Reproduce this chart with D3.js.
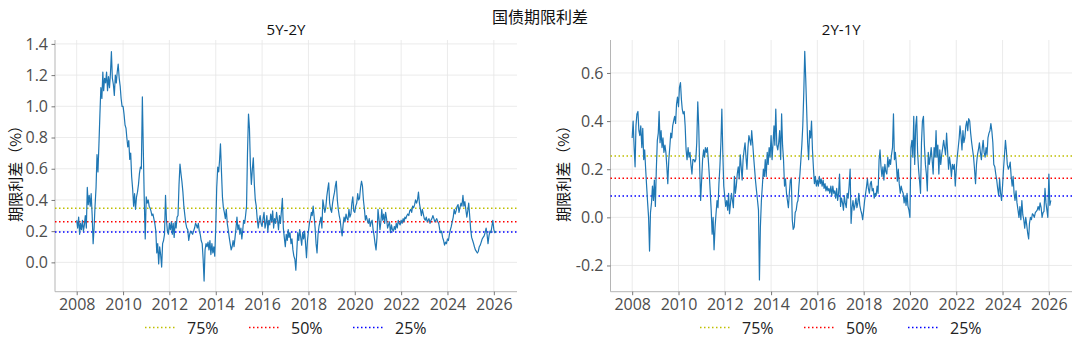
<!DOCTYPE html>
<html>
<head>
<meta charset="utf-8">
<script src="https://cdn.jsdelivr.net/npm/d3@7"></script>
<style>
  body { margin: 0; background: #fff; }
  svg { display: block; }
</style>
</head>
<body>
<svg id="chart" width="1080" height="350"></svg>
<script>
// Half-monthly observations (1st and 16th of each month), starting January 2008.
const startYear = 2008;

// 5Y-2Y treasury term spread, %
const spread5y2y = [
  // 2008
  0.27, 0.22, 0.29, 0.18, 0.25, 0.21, 0.27, 0.20, 0.24, 0.30, 0.22, 0.48, 0.37, 0.43, 0.36, 0.44, 0.30, 0.12, 0.22, 0.36, 0.48, 0.69, 0.58, 0.75,
  // 2009
  0.95, 1.12, 1.05, 1.22, 1.10, 1.18, 1.15, 1.22, 1.10, 1.19, 1.12, 1.21, 1.35, 1.18, 1.14, 1.07, 1.20, 1.15, 1.22, 1.27, 1.18, 1.13, 1.05, 1.00,
  // 2010
  1.00, 0.95, 0.88, 0.86, 0.80, 0.74, 0.78, 0.66, 0.70, 0.55, 0.47, 0.36, 0.44, 0.34, 0.42, 0.45, 0.50, 0.57, 0.61, 0.60, 1.06, 0.72, 0.40, 0.15,
  // 2011
  0.42, 0.38, 0.40, 0.36, 0.35, 0.33, 0.30, 0.31, 0.28, 0.25, 0.20, 0.06, 0.12, -0.01, 0.10, 0.05, -0.03, 0.12, 0.14, 0.18, 0.43, 0.27, 0.20, 0.18,
  // 2012
  0.25, 0.21, 0.26, 0.18, 0.25, 0.16, 0.26, 0.22, 0.29, 0.30, 0.50, 0.63, 0.57, 0.52, 0.45, 0.36, 0.30, 0.25, 0.22, 0.21, 0.14, 0.18, 0.20, 0.19,
  // 2013
  0.18, 0.20, 0.22, 0.25, 0.24, 0.22, 0.25, 0.20, 0.18, 0.14, 0.12, 0.02, -0.12, 0.08, 0.12, 0.10, 0.13, 0.08, 0.14, 0.05, 0.12, 0.06, 0.10, 0.04,
  // 2014
  0.23, 0.48, 0.61, 0.58, 0.65, 0.76, 0.58, 0.42, 0.35, 0.32, 0.28, 0.34, 0.25, 0.21, 0.16, 0.12, 0.08, 0.10, 0.14, 0.10, 0.16, 0.22, 0.29, 0.21,
  // 2015
  0.24, 0.18, 0.22, 0.15, 0.20, 0.27, 0.25, 0.30, 0.36, 0.70, 0.95, 0.86, 0.62, 0.50, 0.60, 0.67, 0.50, 0.40, 0.36, 0.28, 0.22, 0.27, 0.30, 0.25,
  // 2016
  0.23, 0.28, 0.32, 0.22, 0.25, 0.30, 0.20, 0.27, 0.24, 0.31, 0.26, 0.33, 0.22, 0.28, 0.25, 0.32, 0.27, 0.21, 0.30, 0.25, 0.33, 0.41, 0.22, 0.16,
  // 2017
  0.10, 0.18, 0.14, 0.21, 0.16, 0.19, 0.12, 0.15, 0.08, 0.04, 0.02, -0.05, 0.07, 0.19, 0.14, 0.21, 0.16, 0.11, 0.19, 0.15, 0.20, 0.12, 0.03, 0.14,
  // 2018
  0.20, 0.25, 0.28, 0.32, 0.30, 0.36, 0.29, 0.22, 0.12, 0.06, 0.18, 0.23, 0.26, 0.29, 0.22, 0.40, 0.36, 0.32, 0.35, 0.42, 0.47, 0.51, 0.38, 0.34,
  // 2019
  0.32, 0.38, 0.42, 0.45, 0.49, 0.52, 0.40, 0.34, 0.30, 0.27, 0.21, 0.17, 0.24, 0.29, 0.26, 0.31, 0.28, 0.27, 0.34, 0.29, 0.31, 0.38, 0.42, 0.33,
  // 2020
  0.32, 0.36, 0.38, 0.44, 0.40, 0.41, 0.48, 0.52, 0.49, 0.40, 0.34, 0.27, 0.30, 0.27, 0.25, 0.28, 0.23, 0.26, 0.27, 0.21, 0.17, 0.12, 0.08, 0.16,
  // 2021
  0.34, 0.28, 0.21, 0.26, 0.34, 0.27, 0.31, 0.25, 0.32, 0.28, 0.22, 0.24, 0.26, 0.19, 0.24, 0.21, 0.20, 0.23, 0.21, 0.25, 0.22, 0.27, 0.25, 0.24,
  // 2022
  0.27, 0.25, 0.28, 0.26, 0.29, 0.28, 0.30, 0.31, 0.30, 0.33, 0.34, 0.32, 0.36, 0.35, 0.37, 0.40, 0.38, 0.40, 0.45, 0.38, 0.34, 0.30, 0.34, 0.31,
  // 2023
  0.28, 0.27, 0.29, 0.26, 0.27, 0.28, 0.25, 0.27, 0.28, 0.30, 0.28, 0.26, 0.27, 0.28, 0.26, 0.25, 0.21, 0.19, 0.20, 0.16, 0.14, 0.11, 0.13, 0.12,
  // 2024
  0.15, 0.14, 0.18, 0.21, 0.23, 0.26, 0.29, 0.34, 0.31, 0.33, 0.36, 0.37, 0.32, 0.35, 0.38, 0.36, 0.43, 0.36, 0.39, 0.34, 0.29, 0.33, 0.38, 0.30,
  // 2025
  0.21, 0.16, 0.14, 0.12, 0.10, 0.08, 0.07, 0.06, 0.07, 0.10, 0.11, 0.13, 0.15, 0.16, 0.17, 0.19, 0.22, 0.18, 0.12, 0.17, 0.20, 0.19, 0.23, 0.27,
  // 2026
  0.21, 0.19, 0.20
];

// 2Y-1Y treasury term spread, %
const spread2y1y = [
  // 2008
  0.33, 0.40, 0.29, 0.21, 0.38, 0.43, 0.44, 0.36, 0.34, 0.38, 0.29, 0.37, 0.24, 0.28, 0.20, 0.13, 0.06, 0.00, -0.14, 0.02, 0.06, 0.13, 0.07, 0.155,
  // 2009
  0.045, 0.20, 0.32, 0.35, 0.44, 0.31, 0.36, 0.29, 0.33, 0.27, 0.30, 0.27, 0.21, 0.14, 0.24, 0.29, 0.35, 0.33, 0.38, 0.40, 0.42, 0.39, 0.47, 0.50,
  // 2010
  0.46, 0.54, 0.56, 0.49, 0.45, 0.43, 0.44, 0.38, 0.28, 0.24, 0.29, 0.25, 0.27, 0.22, 0.18, 0.24, 0.24, 0.23, 0.24, 0.31, 0.48, 0.38, 0.21, 0.07,
  // 2011
  0.155, 0.24, 0.28, 0.25, 0.29, 0.27, 0.29, 0.24, 0.18, 0.11, 0.03, -0.07, 0.00, -0.135, -0.04, 0.015, 0.07, 0.04, 0.14, 0.21, 0.31, 0.45, 0.27, 0.13,
  // 2012
  0.085, 0.045, 0.07, 0.03, 0.10, 0.015, 0.06, 0.10, 0.07, 0.04, 0.17, 0.10, 0.13, 0.18, 0.21, 0.16, 0.26, 0.21, 0.155, 0.24, 0.28, 0.31, 0.25, 0.20,
  // 2013
  0.29, 0.34, 0.32, 0.30, 0.36, 0.31, 0.25, 0.20, 0.15, 0.11, 0.07, 0.03, -0.26, -0.04, 0.07, 0.13, 0.20, 0.17, 0.24, 0.17, 0.27, 0.22, 0.29, 0.25,
  // 2014
  0.34, 0.24, 0.31, 0.38, 0.30, 0.45, 0.30, 0.28, 0.31, 0.36, 0.24, 0.43, 0.30, 0.24, 0.13, 0.16, 0.10, 0.07, 0.04, 0.10, 0.155, 0.16, -0.01, -0.05,
  // 2015
  -0.04, 0.02, 0.03, 0.06, 0.07, 0.13, 0.18, 0.24, 0.30, 0.38, 0.52, 0.69, 0.58, 0.45, 0.31, 0.24, 0.36, 0.33, 0.40, 0.28, 0.20, 0.14, 0.17, 0.13,
  // 2016
  0.155, 0.13, 0.17, 0.14, 0.16, 0.13, 0.155, 0.12, 0.14, 0.11, 0.13, 0.11, 0.12, 0.10, 0.13, 0.09, 0.13, 0.10, 0.11, 0.08, 0.12, 0.07, 0.10, 0.18,
  // 2017
  0.045, 0.08, 0.06, 0.03, 0.09, 0.06, 0.04, 0.10, 0.08, 0.13, 0.20, -0.025, 0.04, 0.07, 0.03, 0.05, 0.08, 0.04, 0.06, 0.10, 0.05, 0.03, 0.015, -0.01,
  // 2018
  0.03, 0.07, 0.10, 0.13, 0.16, 0.12, 0.10, 0.14, 0.15, 0.11, 0.12, 0.08, 0.10, 0.09, 0.13, 0.10, 0.24, 0.28, 0.21, 0.17, 0.21, 0.155, 0.22, 0.19,
  // 2019
  0.18, 0.25, 0.21, 0.24, 0.22, 0.26, 0.29, 0.43, 0.24, 0.27, 0.22, 0.15, 0.20, 0.14, 0.10, 0.13, 0.11, 0.10, 0.06, 0.09, 0.05, 0.10, 0.045, 0.03,
  // 2020
  0.00, 0.29, 0.32, 0.25, 0.42, 0.22, 0.38, 0.42, 0.27, 0.20, 0.15, 0.10, 0.31, 0.40, 0.42, 0.30, 0.22, 0.18, 0.11, 0.27, 0.22, 0.25, 0.29, 0.24,
  // 2021
  0.18, 0.29, 0.25, 0.36, 0.25, 0.30, 0.18, 0.28, 0.22, 0.26, 0.29, 0.32, 0.29, 0.26, 0.35, 0.28, 0.20, 0.25, 0.22, 0.17, 0.22, 0.20, 0.22, 0.13,
  // 2022
  0.20, 0.25, 0.29, 0.33, 0.38, 0.34, 0.28, 0.36, 0.31, 0.33, 0.38, 0.40, 0.36, 0.41, 0.40, 0.35, 0.31, 0.28, 0.25, 0.20, 0.14, 0.22, 0.26, 0.28,
  // 2023
  0.31, 0.27, 0.24, 0.29, 0.32, 0.27, 0.25, 0.29, 0.26, 0.33, 0.35, 0.36, 0.39, 0.36, 0.31, 0.22, 0.21, 0.18, 0.155, 0.12, 0.09, 0.16, 0.10, 0.07,
  // 2024
  0.13, 0.20, 0.26, 0.32, 0.28, 0.22, 0.20, 0.21, 0.23, 0.17, 0.13, 0.17, 0.10, 0.07, 0.11, 0.06, 0.03, 0.00, 0.045, -0.01, 0.07, 0.01, -0.01, -0.045,
  // 2025
  0.00, -0.03, -0.066, -0.09, -0.025, 0.00, -0.01, 0.015, 0.01, 0.00, 0.02, 0.025, 0.03, 0.045, 0.03, 0.06, 0.04, 0.00, 0.02, 0.025, 0.12, 0.06, 0.03, 0.00,
  // 2026
  0.18, 0.05, 0.07
];

// Historical quantiles of each spread
const quantileLabels = ["75%", "50%", "25%"];
const quantileColors = ["#bfbf00", "#ff0000", "#0000ff"];
const quantiles5y2y = [0.346, 0.260, 0.194];
const quantiles2y1y = [0.255, 0.162, 0.089];

// Axis ticks
const yearTicks = [2008, 2010, 2012, 2014, 2016, 2018, 2020, 2022, 2024, 2026];
const ticks5y2y = [0.0, 0.2, 0.4, 0.6, 0.8, 1.0, 1.2, 1.4];
const ticks2y1y = [-0.2, 0.0, 0.2, 0.4, 0.6];

const titleText = "国债期限利差";
const yLabelText = "期限利差（%）";

// --- drawing ---
const svg = d3.select("#chart");
svg.append("rect").attr("width", 1080).attr("height", 350).attr("fill", "#fff");

const latinFont = "'Open Sans', 'Noto Sans', sans-serif";
const cjkFont = "'Noto Sans CJK SC', 'Noto Sans', sans-serif";

function sampleDate(i) {
  const k = i % 24;
  return new Date(Date.UTC(startYear + Math.floor(i / 24), Math.floor(k / 2), k % 2 ? 16 : 1));
}

function yearDate(y) { return new Date(Date.UTC(y, 0, 1)); }

function decimalDate(t) {
  const y = Math.floor(t);
  const a = Date.UTC(y, 0, 1), b = Date.UTC(y + 1, 0, 1);
  return new Date(a + (t - y) * (b - a));
}

const fmt = v => d3.format(".1f")(v).replace("−", "-");

function drawPanel(cfg) {
  const { left, right, top, bottom } = cfg;
  const x = d3.scaleUtc()
    .domain([decimalDate(2007.063), decimalDate(2027.0)])
    .range([left, right]);
  const y = d3.scaleLinear().domain(cfg.yDomain).range([bottom, top]);

  const g = svg.append("g");

  // grid
  g.append("g").selectAll("line.gx").data(yearTicks).join("line")
    .attr("x1", d => x(yearDate(d))).attr("x2", d => x(yearDate(d)))
    .attr("y1", top).attr("y2", bottom)
    .attr("stroke", "#e6e6e6").attr("stroke-width", 0.8);
  g.append("g").selectAll("line.gy").data(cfg.yTicks).join("line")
    .attr("x1", left).attr("x2", right)
    .attr("y1", d => y(d)).attr("y2", d => y(d))
    .attr("stroke", "#e6e6e6").attr("stroke-width", 0.8);

  // axes
  const xAxis = d3.axisBottom(x).tickValues(yearTicks.map(yearDate))
    .tickFormat(d3.utcFormat("%Y")).tickSize(3.5).tickPadding(3.5);
  const yAxis = d3.axisLeft(y).tickValues(cfg.yTicks).tickFormat(fmt)
    .tickSize(3.5).tickPadding(3.5);

  const gx = g.append("g").attr("transform", `translate(0,${bottom})`).call(xAxis);
  const gy = g.append("g").attr("transform", `translate(${left},0)`).call(yAxis);
  for (const ax of [gx, gy]) {
    ax.select(".domain").attr("stroke", "#b5b5b5").attr("stroke-width", 1);
    ax.selectAll(".tick line").attr("stroke", "#555").attr("stroke-width", 0.8);
    ax.selectAll(".tick text").attr("fill", "#4d4d4d")
      .style("font-family", latinFont).style("font-size", "16px");
  }
  gx.select(".domain").attr("d", `M${left},0H${right}`);
  gy.select(".domain").attr("d", `M0,${top}V${bottom}`);

  // quantile lines
  g.append("g").selectAll("line.q").data(cfg.quantiles).join("line")
    .attr("x1", left).attr("x2", right)
    .attr("y1", d => y(d)).attr("y2", d => y(d))
    .attr("stroke", (d, i) => quantileColors[i])
    .attr("stroke-width", 1.5)
    .attr("stroke-dasharray", "1.5,2.5");

  // spread line
  const line = d3.line()
    .x((d, i) => x(sampleDate(i)))
    .y(d => y(d));
  g.append("path").datum(cfg.values)
    .attr("d", line)
    .attr("fill", "none")
    .attr("stroke", "#1f77b4")
    .attr("stroke-width", 1.2)
    .attr("stroke-linejoin", "round");

  // subplot title
  g.append("text").attr("x", (left + right) / 2).attr("y", 35)
    .attr("text-anchor", "middle")
    .style("font-family", latinFont).style("font-size", "15px").attr("fill", "#111")
    .text(cfg.title);

  // y label
  g.append("text")
    .attr("transform", `translate(${cfg.yLabelX},${(top + bottom) / 2 + 4}) rotate(-90)`)
    .attr("text-anchor", "middle").attr("dominant-baseline", "central")
    .style("font-family", cjkFont).style("font-size", "15px").attr("fill", "#111")
    .text(yLabelText);

  // legend
  const legendY = 327.5;
  const lg = g.append("g");
  quantileLabels.forEach((lab, i) => {
    const x0 = cfg.legendX + i * 104;
    lg.append("line").attr("x1", x0).attr("x2", x0 + 31)
      .attr("y1", legendY).attr("y2", legendY)
      .attr("stroke", quantileColors[i]).attr("stroke-width", 1.5)
      .attr("stroke-dasharray", "1.5,2.5");
    lg.append("text").attr("x", x0 + 42).attr("y", legendY)
      .attr("dominant-baseline", "central")
      .style("font-family", latinFont).style("font-size", "16px").attr("fill", "#222")
      .text(lab);
  });
}

drawPanel({
  left: 55, right: 517, top: 40, bottom: 291.7,
  yDomain: [-0.188, 1.425], yTicks: ticks5y2y,
  values: spread5y2y, quantiles: quantiles5y2y,
  title: "5Y-2Y", yLabelX: 14, legendX: 145
});

drawPanel({
  left: 610.5, right: 1072, top: 40, bottom: 291.7,
  yDomain: [-0.309, 0.737], yTicks: ticks2y1y,
  values: spread2y1y, quantiles: quantiles2y1y,
  title: "2Y-1Y", yLabelX: 562, legendX: 700
});

// figure title
svg.append("text").attr("x", 540).attr("y", 23)
  .attr("text-anchor", "middle")
  .style("font-family", cjkFont).style("font-size", "16px").attr("fill", "#111")
  .text(titleText);
</script>
</body>
</html>
